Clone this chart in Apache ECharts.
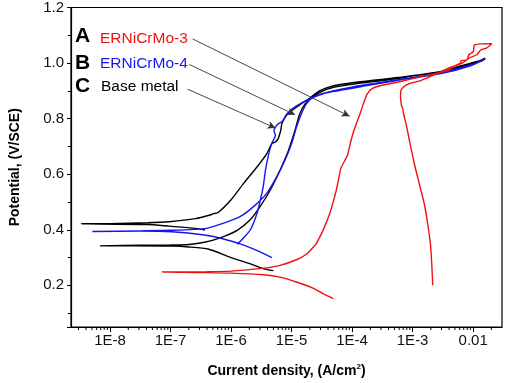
<!DOCTYPE html>
<html>
<head>
<meta charset="utf-8">
<script src="https://cdn.jsdelivr.net/npm/echarts@6/dist/echarts.min.js"></script>
<style>
html, body { margin: 0; padding: 0; background: #fff; }
#chart { width: 505px; height: 383px; }
</style>
</head>
<body>
<div id="chart"></div>
<script>
// [current density (A/cm2), potential (V/SCE)]
var redCathodic = [
    [4.9e-5, 0.152], [3.3e-5, 0.17], [2.25e-5, 0.19], [1.2e-5, 0.212], [6.46e-6, 0.2295],
    [3.47e-6, 0.238], [1.0e-6, 0.244], [3.16e-7, 0.246], [7.24e-8, 0.248]
];
var redAnodic = [
    [3.98e-7, 0.249], [1.0e-6, 0.251], [3.47e-6, 0.262], [6.46e-6, 0.272], [1.2e-5, 0.292],
    [1.75e-5, 0.312], [2.25e-5, 0.336], [2.55e-5, 0.35], [3.27e-5, 0.396], [4.21e-5, 0.455],
    [5.07e-5, 0.514], [5.74e-5, 0.562], [6.5e-5, 0.621], [7.38e-5, 0.645], [8.36e-5, 0.668],
    [9.46e-5, 0.716], [1.07e-4, 0.757], [1.2e-4, 0.787], [1.38e-4, 0.823], [1.56e-4, 0.858],
    [1.77e-4, 0.888], [2.13e-4, 0.908], [3.1e-4, 0.92], [5.8e-4, 0.932], [1.39e-3, 0.951],
    [2.94e-3, 0.967], [3.98e-3, 0.975], [5.0e-3, 0.99], [6.17e-3, 1.0], [6.3e-3, 1.008],
    [7.94e-3, 1.012], [8.5e-3, 1.03], [0.01, 1.04], [0.0107, 1.066], [0.0204, 1.07]
];
var redReverse = [
    [0.019, 1.063], [0.0166, 1.054], [0.0132, 1.046], [0.0115, 1.03], [8.5e-3, 1.018],
    [6.6e-3, 1.0], [4.27e-3, 0.985], [2.51e-3, 0.962], [1.39e-3, 0.938], [8.4e-4, 0.924],
    [6.56e-4, 0.906], [6.3e-4, 0.882], [6.56e-4, 0.846], [6.9e-4, 0.835], [7.0e-4, 0.823],
    [7.9e-4, 0.775], [8.95e-4, 0.716], [1.08e-3, 0.633], [1.3e-3, 0.562], [1.57e-3, 0.49],
    [1.78e-3, 0.419], [1.97e-3, 0.348], [2.07e-3, 0.277], [2.15e-3, 0.2]
];
var blueCathodic = [
    [4.72e-6, 0.3], [2.7e-6, 0.3246], [1.45e-6, 0.348], [7.76e-7, 0.366], [3.63e-7, 0.381],
    [1.05e-7, 0.393], [3.16e-8, 0.395], [5.1e-9, 0.394]
];
var blueAnodic = [
    [3.16e-8, 0.396], [1.05e-7, 0.398], [3.63e-7, 0.404], [7.76e-7, 0.425], [1.45e-6, 0.449],
    [2.4e-6, 0.485], [3.9e-6, 0.532], [5.7e-6, 0.591], [7.76e-6, 0.65], [1.0e-5, 0.71],
    [1.2e-5, 0.769], [1.45e-5, 0.817], [1.74e-5, 0.852], [2.11e-5, 0.872], [2.88e-5, 0.885],
    [4.79e-5, 0.897], [1.66e-4, 0.918], [5.75e-4, 0.938], [2.95e-3, 0.962], [9.1e-3, 0.99],
    [0.0158, 1.015]
];
var blueReverse = [
    [0.0141, 1.008], [9.1e-3, 0.993], [2.95e-3, 0.965], [5.75e-4, 0.94], [1.66e-4, 0.922],
    [4.79e-5, 0.9], [2.88e-5, 0.887], [2.11e-5, 0.874], [1.2e-5, 0.846], [8.3e-6, 0.817],
    [7.3e-6, 0.793], [6.0e-6, 0.781], [5.4e-6, 0.769], [5.1e-6, 0.757], [5.4e-6, 0.74],
    [4.7e-6, 0.71], [4.2e-6, 0.674], [3.7e-6, 0.615], [3.4e-6, 0.556], [3.05e-6, 0.508],
    [2.7e-6, 0.461], [2.1e-6, 0.401], [1.53e-6, 0.366], [1.26e-6, 0.348]
];
var blackCathodic = [
    [5.0e-6, 0.253], [3.47e-6, 0.259], [2.09e-6, 0.277], [1.0e-6, 0.3], [4.27e-7, 0.33],
    [2.0e-7, 0.338], [1.0e-7, 0.341], [2.5e-8, 0.342], [6.8e-9, 0.342]
];
var blackAnodic = [
    [3.16e-8, 0.344], [1.0e-7, 0.345], [2.0e-7, 0.347], [3.63e-7, 0.355], [6.76e-7, 0.372],
    [1.26e-6, 0.398], [2.09e-6, 0.437], [3.05e-6, 0.485], [4.47e-6, 0.544], [6.46e-6, 0.615],
    [8.9e-6, 0.686], [1.135e-5, 0.757], [1.36e-5, 0.817], [1.66e-5, 0.852], [2.11e-5, 0.874],
    [2.88e-5, 0.894], [4.79e-5, 0.912], [1.66e-4, 0.93], [5.75e-4, 0.944], [1.07e-3, 0.955],
    [2.95e-3, 0.967], [9.1e-3, 0.995], [0.0132, 1.01], [0.0158, 1.018]
];
var blackReverse = [
    [0.0148, 1.012], [9.1e-3, 1.0], [2.95e-3, 0.97], [5.75e-4, 0.948], [1.66e-4, 0.935],
    [4.79e-5, 0.918], [2.88e-5, 0.9], [2.11e-5, 0.878], [1.29e-5, 0.846], [9.3e-6, 0.823],
    [7.76e-6, 0.805], [6.9e-6, 0.781], [6.6e-6, 0.757], [6.0e-6, 0.728], [5.4e-6, 0.716],
    [4.7e-6, 0.71], [3.9e-6, 0.674], [2.7e-6, 0.627], [1.62e-6, 0.568], [1.0e-6, 0.508],
    [6.0e-7, 0.461], [5.0e-7, 0.458], [4.8e-7, 0.455], [2.57e-7, 0.44], [9.5e-8, 0.429],
    [4.2e-8, 0.425], [1.0e-8, 0.422], [3.33e-9, 0.4217], [4.2e-8, 0.419], [9.5e-8, 0.413],
    [2.57e-7, 0.405], [3.7e-7, 0.399]
];

var labelA = ['A', 'ERNiCrMo-3'];
var labelB = ['B', 'ERNiCrMo-4'];
var labelC = ['C', 'Base metal'];
// arrow start / end in data space
var arrowA = [[2.31e-7, 1.087], [9.1e-5, 0.8085]];
var arrowB = [[2.04e-7, 0.995], [1.14e-5, 0.814]];
var arrowC = [[1.91e-7, 0.906], [5.42e-6, 0.766]];

var xMin = 2.26e-9, xMax = 0.030, yMin = 0.05, yMax = 1.2;

// log minor ticks 2..9 of every decade
var minorX = [];
for (var e = -9; e <= -2; e++) {
    for (var k = 2; k <= 9; k++) {
        var v = k * Math.pow(10, e);
        if (v > xMin && v < xMax) minorX.push([v]);
    }
}

var FONT = '"Liberation Sans", Arial, sans-serif';
var chart = echarts.init(document.getElementById('chart'));

function curve(data, color, extra) {
    var s = {
        type: 'line',
        data: data,
        showSymbol: false,
        symbol: 'none',
        smooth: 0.25,
        animation: false,
        lineStyle: { color: color, width: 1.4 },
        z: 3
    };
    if (extra) {
        for (var k in extra) s[k] = extra[k];
    }
    return s;
}

function arrow(a) {
    return [{ coord: a[0] }, { coord: a[1] }];
}

var option = {
    backgroundColor: '#fff',
    animation: false,
    grid: {
        left: 64, right: 3, top: 7, bottom: 53,
        show: true, borderColor: '#000', borderWidth: 1.2
    },
    xAxis: {
        type: 'log',
        logBase: 10,
        min: xMin,
        max: xMax,
        name: 'Current density, (A/cm{sup|2})',
        nameLocation: 'middle',
        nameGap: 36,
        nameTextStyle: {
            fontFamily: FONT, fontSize: 14, fontWeight: 'bold', color: '#000',
            rich: { sup: { fontSize: 8, fontWeight: 'bold', verticalAlign: 'top', padding: [0, 0, 8, 0] } }
        },
        axisLine: { onZero: false, lineStyle: { color: '#000', width: 1.2 } },
        axisTick: { inside: false, length: 5, lineStyle: { color: '#000' } },
        splitLine: { show: false },
        axisLabel: {
            fontFamily: FONT, fontSize: 15, color: '#111', margin: 6,
            showMinLabel: false, showMaxLabel: false,
            formatter: function (v) {
                var e = Math.log10(v);
                var r = Math.round(e);
                if (Math.abs(e - r) > 1e-6) return '';
                if (r === -2) return '0.01';
                return '1E' + r;
            }
        }
    },
    yAxis: {
        type: 'value',
        min: yMin,
        max: yMax,
        name: 'Potential, (V/SCE)',
        nameLocation: 'middle',
        nameGap: 49,
        nameTextStyle: { fontFamily: FONT, fontSize: 14, fontWeight: 'bold', color: '#000' },
        axisLine: { show: true, onZero: false, lineStyle: { color: '#000', width: 1.2 } },
        axisTick: { show: true, inside: false, length: 4, lineStyle: { color: '#000' } },
        minorTick: { show: true, splitNumber: 2, length: 3, lineStyle: { color: '#000' } },
        splitLine: { show: false },
        axisLabel: {
            fontFamily: FONT, fontSize: 15, color: '#111', margin: 7,
            showMinLabel: false,
            formatter: function (v) { return v.toFixed(1); }
        }
    },
    series: [
        {
            // minor ticks of the log axis, placed through the axis scale
            type: 'custom',
            silent: true,
            clip: false,
            data: minorX,
            renderItem: function (params, api) {
                var p = api.coord([api.value(0), yMin]);
                return {
                    type: 'line',
                    shape: { x1: p[0], y1: p[1], x2: p[0], y2: p[1] + 3 },
                    style: { stroke: '#000', lineWidth: 1 }
                };
            }
        },
        curve(blackCathodic.concat(blackAnodic, blackReverse), '#000', {
            markLine: {
                silent: true,
                symbol: ['none', 'arrow'],
                symbolSize: [6, 8],
                label: { show: false },
                lineStyle: { color: '#333', width: 0.9, type: 'solid' },
                data: [arrow(arrowA), arrow(arrowB), arrow(arrowC)]
            }
        }),
        curve(blueCathodic.concat(blueAnodic, blueReverse), '#1515f0'),
        curve(redCathodic.concat(redAnodic, redReverse), '#f01010')
    ],
    graphic: [
        { type: 'text', left: 75, top: 26, style: { text: labelA[0], fill: '#000', font: 'bold 21px ' + FONT } },
        { type: 'text', left: 75, top: 53, style: { text: labelB[0], fill: '#000', font: 'bold 21px ' + FONT } },
        { type: 'text', left: 75, top: 76, style: { text: labelC[0], fill: '#000', font: 'bold 21px ' + FONT } },
        { type: 'text', left: 100, top: 31, style: { text: labelA[1], fill: '#f01010', font: '15.5px ' + FONT } },
        { type: 'text', left: 100, top: 56, style: { text: labelB[1], fill: '#1515f0', font: '15.5px ' + FONT } },
        { type: 'text', left: 101, top: 79, style: { text: labelC[1], fill: '#000', font: '15.5px ' + FONT } }
    ]
};
chart.setOption(option);
</script>
</body>
</html>
